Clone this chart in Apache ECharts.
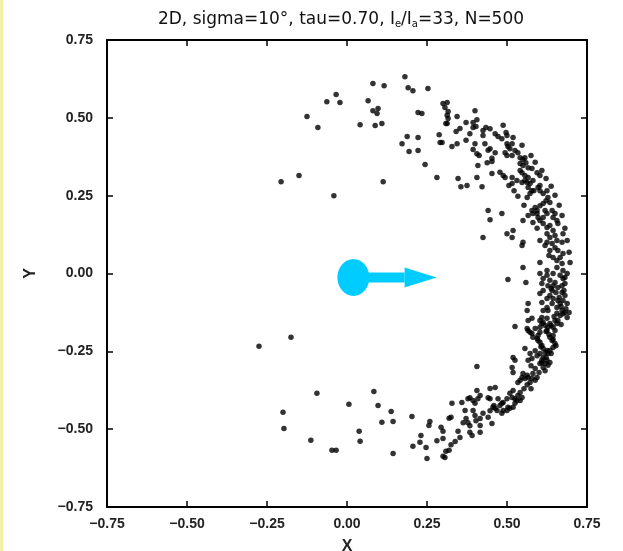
<!DOCTYPE html>
<html><head><meta charset="utf-8">
<script src="https://cdn.jsdelivr.net/npm/echarts@6/dist/echarts.min.js"></script>
<style>html,body{margin:0;padding:0;background:#fff}#c{width:623px;height:551px}</style>
</head><body><div id="c"></div>
<script>
// ---- data (x, y) ----
const upperSparse = [
[0.181,0.632],[0.081,0.610],[0.116,0.603],[0.191,0.597],[0.206,0.587],[0.253,0.594],
[-0.034,0.575],[-0.063,0.552],[-0.022,0.549],[0.066,0.555],[0.081,0.523],[0.097,0.530],
[0.094,0.514],[0.222,0.517],[0.234,0.514],[0.300,0.546],[0.306,0.533],[0.313,0.549],
[0.316,0.520],[-0.125,0.504],[-0.091,0.469],[0.041,0.478],[0.088,0.475],[0.109,0.482],
[0.188,0.440],[0.222,0.437],[0.288,0.446],[0.172,0.417],[0.291,0.421],[0.309,0.482],
[0.316,0.498],[0.194,0.392],[0.222,0.395],[0.244,0.350],[0.281,0.308],[-0.206,0.295],
[-0.150,0.315],[0.113,0.295],[-0.041,0.250]
];
const lowerSparse = [
[-0.275,-0.234],[-0.175,-0.205],[-0.094,-0.385],[-0.200,-0.446],[-0.197,-0.498],
[-0.113,-0.536],[-0.047,-0.568],[-0.034,-0.568],[0.006,-0.420],[0.038,-0.507],
[0.041,-0.539],[0.084,-0.379],[0.097,-0.424],[0.138,-0.443],[0.109,-0.478],
[0.144,-0.475],[0.144,-0.578],[0.203,-0.459],[0.206,-0.555],[0.231,-0.520],
[0.228,-0.542],[0.247,-0.559],[0.250,-0.594],[0.256,-0.488],[0.259,-0.475],
[0.294,-0.494],[0.300,-0.507],[0.300,-0.530],[0.319,-0.465],[0.325,-0.462],
[0.328,-0.417],[0.347,-0.507],[0.309,-0.571],[0.319,-0.568],[0.300,-0.587],[0.306,-0.591]
];
const upperBand = [
[0.313,0.508],[0.344,0.504],[0.313,0.482],[0.372,0.485],[0.394,0.485],[0.406,0.494],
[0.400,0.523],[0.341,0.456],[0.384,0.449],[0.394,0.469],[0.403,0.472],[0.425,0.459],
[0.434,0.469],[0.447,0.465],[0.425,0.443],[0.463,0.449],[0.472,0.440],[0.484,0.433],
[0.497,0.453],[0.500,0.443],[0.297,0.421],[0.328,0.408],[0.344,0.417],[0.400,0.417],
[0.431,0.417],[0.447,0.401],[0.463,0.388],[0.500,0.417],[0.503,0.408],[0.516,0.417],
[0.509,0.401],[0.394,0.398],[0.406,0.385],[0.413,0.379],[0.494,0.388],[0.500,0.379],
[0.516,0.379],[0.525,0.395],[0.534,0.388],[0.541,0.372],[0.550,0.366],[0.556,0.372],
[0.438,0.356],[0.453,0.360],[0.409,0.347],[0.541,0.353],[0.550,0.347],[0.559,0.356],
[0.566,0.340],[0.578,0.337],[0.594,0.324],[0.541,0.331],[0.547,0.324],[0.453,0.321],
[0.406,0.308],[0.488,0.315],[0.494,0.308],[0.516,0.308],[0.556,0.315],[0.566,0.308],
[0.603,0.315],[0.347,0.305],[0.356,0.279],[0.375,0.283],[0.422,0.279],[0.516,0.289],
[0.522,0.266],[0.531,0.299],[0.547,0.292],[0.556,0.299],[0.563,0.292],[0.572,0.289],
[0.581,0.299],[0.566,0.276],[0.578,0.266],[0.572,0.257],[0.563,0.244],[0.584,0.266],
[0.597,0.276],[0.603,0.283],[0.603,0.266],[0.613,0.257],[0.625,0.266],[0.628,0.244],
[0.622,0.234],[0.634,0.228],[0.613,0.225],[0.603,0.218],[0.588,0.212],[0.594,0.202],
[0.581,0.193],[0.441,0.202],[0.447,0.173],[0.484,0.193],[0.550,0.170],[0.578,0.202],
[0.594,0.193],[0.597,0.180],[0.603,0.170],[0.613,0.180],[0.619,0.202],[0.625,0.193],
[0.641,0.202],[0.644,0.180],[0.650,0.193],[0.656,0.170],[0.659,0.161],[0.425,0.116],
[0.500,0.128],[0.516,0.116],[0.519,0.138],[0.547,0.090],[0.550,0.100],[0.550,0.019],
[0.488,0.476],[0.519,0.437],[0.547,0.412],[0.575,0.379],[0.588,0.357],[0.609,0.331],
[0.622,0.305],[0.638,0.280],[0.650,0.251],[0.663,0.219],[0.672,0.186],[0.681,0.145],
[0.688,0.106],[0.694,0.068],[0.697,0.035],[0.631,0.058],[0.619,0.090],[0.603,0.106],
[0.594,0.145],[0.581,0.164],[0.566,0.186],[0.553,0.219],[0.534,0.248],[0.506,0.283],
[0.478,0.325],[0.453,0.370],[0.441,0.396],[0.372,0.428],[0.353,0.466]
];
const rightBand = [
[0.613,0.161],[0.625,0.148],[0.634,0.154],[0.644,0.138],[0.625,0.128],[0.634,0.116],
[0.650,0.122],[0.656,0.106],[0.641,0.096],[0.625,0.100],[0.650,0.083],[0.659,0.074],
[0.634,0.074],[0.644,0.051],[0.656,0.042],[0.666,0.051],[0.675,0.064],[0.672,0.032],
[0.656,0.019],[0.675,0.010],[0.681,-0.013],[0.644,0.000],[0.603,0.035],[0.625,0.010],
[0.675,0.128],[0.672,0.100],
[0.503,-0.019],[0.559,-0.029],
[0.603,0.000],[0.613,-0.016],[0.609,-0.032],[0.625,-0.006],[0.634,-0.022],[0.644,-0.039],
[0.641,-0.055],[0.650,-0.029],[0.659,-0.045],[0.666,-0.006],[0.675,-0.016],[0.681,-0.032],
[0.688,0.000],[0.672,-0.061],[0.681,-0.071],[0.675,-0.087],[0.688,-0.096],[0.666,-0.096],
[0.656,-0.109],[0.672,-0.119],[0.681,-0.125],[0.688,-0.141],[0.666,-0.135],[0.656,-0.128],
[0.650,-0.151],[0.613,-0.055],[0.603,-0.064],[0.609,-0.093],[0.625,-0.080],[0.634,-0.071],
[0.625,-0.109],[0.613,-0.119],[0.609,-0.141],[0.628,-0.119],[0.641,-0.096],[0.644,-0.080],
[0.628,-0.039],[0.638,-0.048],[0.653,-0.061],[0.663,-0.077],[0.672,-0.039],[0.678,-0.055],
[0.659,-0.087],[0.669,-0.106],[0.675,-0.129],[0.684,-0.113],[0.694,-0.125],[0.647,-0.138],
[0.659,-0.151],[0.669,-0.164]
];
const lowerBand = [
[0.406,-0.299],[0.359,-0.414],[0.363,-0.479],[0.378,-0.402],[0.384,-0.399],[0.394,-0.408],
[0.400,-0.417],[0.406,-0.376],[0.416,-0.392],[0.409,-0.402],[0.369,-0.440],[0.394,-0.440],
[0.400,-0.456],[0.378,-0.479],[0.391,-0.520],[0.384,-0.510],[0.416,-0.488],[0.416,-0.510],
[0.425,-0.449],[0.441,-0.462],[0.447,-0.369],[0.463,-0.366],[0.441,-0.399],[0.447,-0.402],
[0.453,-0.482],[0.456,-0.430],[0.463,-0.433],[0.469,-0.440],[0.478,-0.424],[0.484,-0.417],
[0.488,-0.414],[0.484,-0.449],[0.488,-0.440],[0.500,-0.440],[0.503,-0.430],[0.509,-0.433],
[0.519,-0.430],[0.525,-0.417],[0.531,-0.408],[0.509,-0.385],[0.516,-0.398],[0.525,-0.402],
[0.534,-0.392],[0.541,-0.382],[0.547,-0.398],[0.541,-0.408],[0.516,-0.302],[0.519,-0.318],
[0.525,-0.279],[0.519,-0.270],[0.541,-0.343],[0.547,-0.334],[0.550,-0.321],[0.556,-0.337],
[0.563,-0.327],[0.566,-0.334],[0.572,-0.350],[0.578,-0.337],[0.588,-0.343],[0.594,-0.334],
[0.581,-0.321],[0.588,-0.305],[0.525,-0.170],[0.556,-0.241],[0.566,-0.279],[0.578,-0.273],
[0.572,-0.257],[0.563,-0.177],[0.566,-0.183],[0.572,-0.189],[0.578,-0.193],[0.588,-0.177],
[0.581,-0.205],[0.594,-0.209],[0.597,-0.199],[0.603,-0.189],[0.603,-0.173],[0.566,-0.096],
[0.563,-0.119],[0.578,-0.144],[0.566,-0.151],[0.603,-0.151],[0.609,-0.161],[0.613,-0.157],
[0.625,-0.144],[0.619,-0.167],[0.603,-0.221],[0.609,-0.231],[0.613,-0.241],[0.619,-0.254],
[0.625,-0.247],[0.628,-0.257],[0.603,-0.257],[0.613,-0.270],[0.625,-0.279],[0.634,-0.286],
[0.628,-0.295],[0.613,-0.302],[0.603,-0.289],[0.609,-0.279],[0.619,-0.289],[0.634,-0.205],
[0.641,-0.215],[0.644,-0.199],[0.650,-0.225],[0.644,-0.238],[0.634,-0.247],[0.625,-0.183],
[0.628,-0.173],[0.634,-0.161],[0.644,-0.173],[0.650,-0.183],[0.656,-0.161],
[0.638,-0.167],[0.622,-0.186],[0.631,-0.196],[0.644,-0.212],[0.653,-0.232],[0.638,-0.257],
[0.622,-0.270],[0.606,-0.235],[0.597,-0.215],[0.588,-0.248],[0.575,-0.296],[0.594,-0.264],
[0.609,-0.286],[0.619,-0.312],[0.600,-0.318],[0.575,-0.370],[0.563,-0.357],[0.553,-0.370],
[0.534,-0.350],[0.519,-0.376],[0.500,-0.402],[0.472,-0.402],[0.459,-0.424],[0.447,-0.441],
[0.416,-0.466],[0.403,-0.473],[0.384,-0.489],[0.372,-0.466],[0.353,-0.527],[0.338,-0.540],
[0.325,-0.550],[0.281,-0.537]
];
// source marker (disc + arrow) in data units
const markerCenter = [0.02, -0.013];
const arrowTip = [0.28, -0.013];
const axisMin = -0.75, axisMax = 0.75, axisStep = 0.25;

const allPoints = upperSparse.concat(lowerSparse, upperBand, rightBand, lowerBand);
const fmt = v => (v < 0 ? '\u2212' : '') + Math.abs(v).toFixed(2);
const labelFont = {fontFamily:'Liberation Sans', fontSize:14, fontWeight:'bold', color:'#222'};

const chart = echarts.init(document.getElementById('c'), null, {renderer:'canvas'});
const axisCommon = {
  type:'value', min:axisMin, max:axisMax, interval:axisStep,
  splitLine:{show:false},
  axisLine:{show:true, onZero:false, lineStyle:{color:'#000', width:2}},
  axisTick:{show:true, inside:true, length:6, lineStyle:{color:'#000', width:1.5}}
};
chart.setOption({
  animation:false,
  backgroundColor:'#fff',
  title:{
    text:'2D, sigma=10°, tau=0.70, I{s|e}/I{s|a}=33, N=500',
    left:336, top:5, textAlign:'center',
    textStyle:{fontFamily:'DejaVu Sans', fontSize:17, fontWeight:'normal', color:'#111',
      rich:{s:{fontFamily:'DejaVu Sans', fontSize:10, color:'#111', padding:[9,0,0,0]}}}
  },
  grid:{left:107, right:36, top:40, bottom:44, containLabel:false, outerBoundsMode:'none'},
  xAxis:[
    Object.assign({}, axisCommon, {position:'bottom', name:'X', nameLocation:'middle', nameGap:32,
      nameTextStyle:Object.assign({}, labelFont, {fontSize:16}),
      axisLabel:Object.assign({margin:10, formatter:fmt}, labelFont)}),
    Object.assign({}, axisCommon, {position:'top', axisLabel:{show:false}})
  ],
  yAxis:[
    Object.assign({}, axisCommon, {position:'left', name:'Y', nameLocation:'middle', nameGap:68, nameRotate:90,
      nameTextStyle:Object.assign({}, labelFont, {fontSize:16}),
      axisLabel:Object.assign({margin:14, formatter:fmt}, labelFont)}),
    Object.assign({}, axisCommon, {position:'right', axisLabel:{show:false}})
  ],
  graphic:[{type:'rect', shape:{x:0,y:0,width:3,height:551}, style:{fill:'#f3eea8'}}],
  series:[
    {type:'scatter', xAxisIndex:0, yAxisIndex:0, data:allPoints, symbol:'circle', symbolSize:5.5,
     itemStyle:{color:'#000'}, z:3},
    {type:'custom', xAxisIndex:0, yAxisIndex:0, z:5, data:[[markerCenter[0],markerCenter[1],arrowTip[0],arrowTip[1]]],
     renderItem:function(params, api){
       const c = api.coord([api.value(0), api.value(1)]);
       const t = api.coord([api.value(2), api.value(3)]);
       const headLen = 32, headHalf = 10, shaft = 5;
       const hx = t[0] - headLen;
       return {type:'group', children:[
         {type:'rect', shape:{x:c[0], y:c[1]-shaft, width:hx-c[0], height:shaft*2}, style:{fill:'#00ccff'}},
         {type:'polygon', shape:{points:[[hx,t[1]-headHalf],[t[0],t[1]],[hx,t[1]+headHalf]]}, style:{fill:'#00ccff'}},
         {type:'ellipse', shape:{cx:c[0], cy:c[1], rx:16, ry:18.5}, style:{fill:'#00ccff'}}
       ]};
     }}
  ]
});
</script></body></html>
